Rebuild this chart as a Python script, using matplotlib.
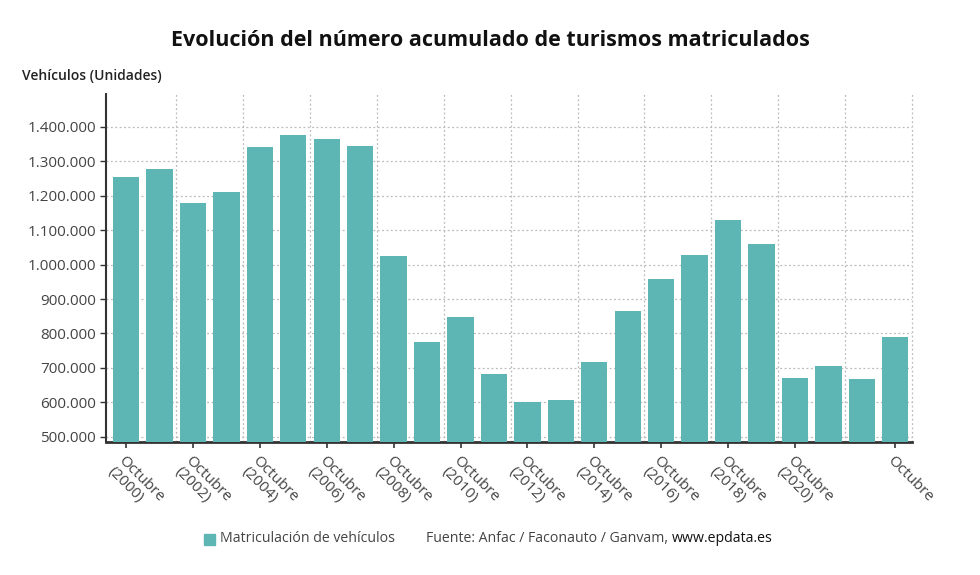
import matplotlib
matplotlib.use("Agg")
import matplotlib.pyplot as plt
from matplotlib.ticker import FuncFormatter, FixedLocator
from matplotlib.patches import Rectangle

plt.rcParams['font.family'] = ['Open Sans', 'DejaVu Sans']

years = list(range(2000, 2024))
values = [1253000, 1276000, 1179000, 1212000, 1341000, 1377000, 1364000, 1344000,
          1026000, 776000, 848000, 682000, 601000, 606000, 717000, 864000,
          957000, 1028000, 1130000, 1060000, 670000, 707000, 667000, 790000]
tick_idx = [0, 2, 4, 6, 8, 10, 12, 14, 16, 18, 20, 23]
tick_labels = ["Octubre\n(2000)", "Octubre\n(2002)", "Octubre\n(2004)", "Octubre\n(2006)",
               "Octubre\n(2008)", "Octubre\n(2010)", "Octubre\n(2012)", "Octubre\n(2014)",
               "Octubre\n(2016)", "Octubre\n(2018)", "Octubre\n(2020)", "Octubre"]
y_ticks = [500000, 600000, 700000, 800000, 900000, 1000000, 1100000, 1200000, 1300000, 1400000]

bar_color = "#5db6b3"
text_color = "#444444"

fig = plt.figure(figsize=(9.8, 5.75), dpi=100)
ax = fig.add_axes([106/980, 1 - 442/575, (912-106)/980, (442-94)/575])

x = list(range(len(years)))
ax.bar(x, values, width=0.79, color=bar_color, zorder=3)

ax.set_xlim(-0.6, 23.5)
ax.set_ylim(485000, 1495000)

ax.yaxis.set_major_locator(FixedLocator(y_ticks))
ax.yaxis.set_major_formatter(FuncFormatter(lambda v, p: f"{int(v):,}".replace(",", ".")))
ax.grid(axis='y', linestyle=(0, (1.5, 2)), color="#bbbbbb", linewidth=0.9, zorder=0)
for gx in [i + 0.5 for i in range(1, 24, 2)]:
    ax.axvline(gx, linestyle=(0, (1.5, 2)), color="#bbbbbb", linewidth=0.9, zorder=0, clip_on=False)

ax.set_xticks(tick_idx)
ax.set_xticklabels(tick_labels, rotation=-45, ha='left', va='top', rotation_mode='anchor',
                   fontsize=11, color=text_color, linespacing=1.05)
ax.tick_params(axis='x', length=4, width=1.2, color="#333333", pad=4)
ax.tick_params(axis='y', length=4, width=1, color="#333333", labelsize=11, labelcolor=text_color, pad=3)

for s in ['top', 'right']:
    ax.spines[s].set_visible(False)
ax.spines['bottom'].set_color("#333333")
ax.spines['bottom'].set_linewidth(2)
ax.spines['left'].set_color("#333333")
ax.spines['left'].set_linewidth(1.5)
ax.spines['left'].set_linestyle((0, (1, 1)))

fig.text(490/980, 1 - 40/575, "Evolución del número acumulado de turismos matriculados",
         ha='center', va='center', fontsize=15.5, fontweight='bold', color="#111111")
fig.text(22/980, 1 - 76/575, "Vehículos (Unidades)", ha='left', va='center',
         fontsize=10, fontweight='semibold', color="#222222")

# legend / source
fig.patches.append(Rectangle((204/980, 1 - 545/575), 11/980, 11/575, transform=fig.transFigure,
                             color=bar_color))
fig.text(220/980, 1 - 539/575, "Matriculación de vehículos", ha='left', va='center',
         fontsize=10.2, color=text_color)
t1 = fig.text(426/980, 1 - 539/575, "Fuente: Anfac / Faconauto / Ganvam, ", ha='left', va='center',
              fontsize=10.2, color=text_color)
fig.canvas.draw()
bb = t1.get_window_extent()
fig.text(bb.x1 / fig.bbox.width, 1 - 539/575, "www.epdata.es", ha='left', va='center',
         fontsize=10.2, color="#111111")

fig.savefig("out.png", dpi=100)
